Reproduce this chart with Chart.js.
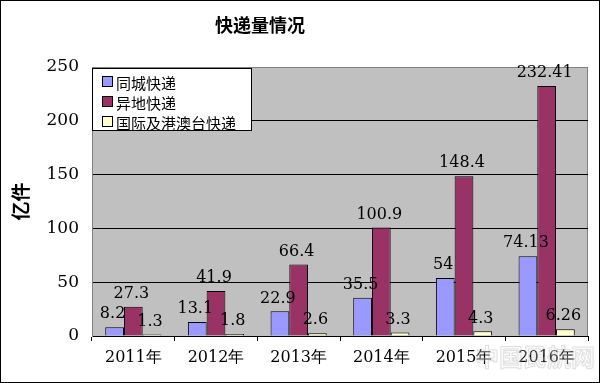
<!DOCTYPE html>
<html><head><meta charset="utf-8">
<script src="https://cdn.jsdelivr.net/npm/chart.js@4"></script>
<style>html,body{margin:0;padding:0;background:#fff}#wrap{width:600px;height:383px;position:relative}</style>
</head><body><div id="wrap"><canvas id="c" width="600" height="383"></canvas></div>
<script>
const chartTitle = '快递量情况';
const yTitle = '亿件';
const categories = ['2011年','2012年','2013年','2014年','2015年','2016年'];
const seriesNames = ['同城快递','异地快递','国际及港澳台快递'];
const sameCity = [8.2, 13.1, 22.9, 35.5, 54, 74.13];
const otherCity = [27.3, 41.9, 66.4, 100.9, 148.4, 232.41];
const intl = [1.3, 1.8, 2.6, 3.3, 4.3, 6.26];
const labelsSame = ['8.2','13.1','22.9','35.5','54','74.13'];
const labelsOther = ['27.3','41.9','66.4','100.9','148.4','232.41'];
const labelsIntl = ['1.3','1.8','2.6','3.3','4.3','6.26'];
const colors = ['#9999ff','#993366','#ffffcc'];
const watermark = '中国民航网';

const serif = '"DejaVu Serif", "Liberation Serif", serif';
const cjk = '"Noto Sans CJK SC", sans-serif';

const plotBg = {
  id:'plotBg',
  beforeDraw(chart){
    const {ctx, chartArea:a} = chart;
    ctx.save();
    ctx.fillStyle = '#fff';
    ctx.fillRect(0,0,chart.width,chart.height);
    ctx.fillStyle = '#c0c0c0';
    ctx.fillRect(a.left, a.top, a.right-a.left, a.bottom-a.top);
    ctx.strokeStyle = '#808080'; ctx.lineWidth = 1;
    ctx.strokeRect(a.left+0.5, a.top+0.5, a.right-a.left-1, a.bottom-a.top);
    ctx.restore();
  },
  afterDraw(chart){
    const {ctx, chartArea:a} = chart;
    ctx.save();
    // title
    ctx.fillStyle = '#000';
    ctx.font = 'bold 18px ' + cjk;
    ctx.textAlign = 'center'; ctx.textBaseline = 'middle';
    ctx.fillText(chartTitle, 260, 25);
    // data labels
    const lbls = [labelsSame, labelsOther, labelsIntl];
    ctx.font = '16px ' + serif;
    chart.data.datasets.forEach((ds, i) => {
      const meta = chart.getDatasetMeta(i);
      meta.data.forEach((bar, j) => {
        ctx.fillText(lbls[i][j], bar.x - 2, bar.y - 13);
      });
    });
    // legend
    const lx = a.left, ly = a.top + 1, lw = 159, lh = 62;
    ctx.fillStyle = '#fff';
    ctx.fillRect(lx, ly, lw, lh);
    ctx.strokeStyle = '#000';
    ctx.strokeRect(lx+0.5, ly+0.5, lw, lh);
    ctx.font = '15px ' + cjk;
    ctx.textAlign = 'left';
    chart.data.datasets.forEach((ds, i) => {
      const y = ly + 14 + i*20;
      ctx.fillStyle = ds.backgroundColor;
      ctx.fillRect(lx+10.5, y-5.5, 10, 10);
      ctx.strokeRect(lx+10.5, y-5.5, 10, 10);
      ctx.fillStyle = '#000';
      ctx.fillText(ds.label, lx+24, y+1);
    });
    // border
    ctx.strokeStyle = '#000';
    ctx.strokeRect(0.5, 0.5, chart.width-1, chart.height-1);
    // watermark
    ctx.font = 'bold 24px ' + cjk;
    ctx.textAlign = 'center';
    ctx.fillStyle = 'rgba(235,235,235,0.25)';
    ctx.strokeStyle = 'rgba(170,170,170,0.35)';
    ctx.lineWidth = 1;
    ctx.fillText(watermark, 535, 357);
    ctx.strokeText(watermark, 535, 357);
    ctx.restore();
  }
};

new Chart(document.getElementById('c'), {
  type:'bar',
  data:{
    labels: categories,
    datasets:[
      {label:seriesNames[0], data:sameCity, backgroundColor:colors[0]},
      {label:seriesNames[1], data:otherCity, backgroundColor:colors[1]},
      {label:seriesNames[2], data:intl, backgroundColor:colors[2]}
    ].map(d => Object.assign(d, {borderColor:'#000', borderWidth:1, barPercentage:1, categoryPercentage:0.68}))
  },
  options:{
    responsive:false, animation:false, devicePixelRatio:1,
    layout:{padding:{top:67, right:12, bottom:0, left:0}},
    plugins:{legend:{display:false}, title:{display:false}, tooltip:{enabled:false}},
    scales:{
      x:{
        grid:{offset:true, drawOnChartArea:false, drawTicks:true, tickLength:5, color:'#000'},
        border:{color:'#000', width:1},
        ticks:{color:'#000', font:{family:serif, size:16}, padding:7, maxRotation:0},
        afterFit(s){ s.height = 47; }
      },
      y:{
        min:0, max:250,
        grid:{drawTicks:false, color:(c)=> c.tick && c.tick.value===250 ? '#808080' : '#000', lineWidth:1},
        border:{color:'#808080', width:1},
        ticks:{stepSize:50, color:'#000', font:{family:serif, size:17}, padding:13},
        title:{display:true, text:yTitle, color:'#000', font:{family:cjk, size:19, weight:'bold'}, padding:{top:9, bottom:0}},
        afterFit(s){ s.width = 92; }
      }
    }
  },
  plugins:[plotBg]
});
</script>
</body></html>
